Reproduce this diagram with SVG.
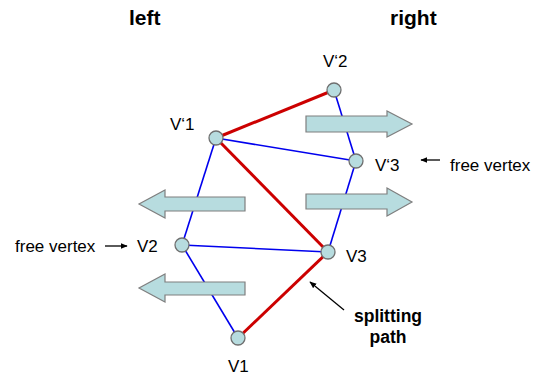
<svg xmlns="http://www.w3.org/2000/svg" width="544" height="378" viewBox="0 0 544 378">
<style>
.txt{font-family:"Liberation Sans",Arial,sans-serif;fill:#000}
.lab{font-size:17px}
.small{font-size:17px}
.bold{font-weight:bold}
.red{stroke:#cc0000;stroke-width:3;fill:none}
.blue{stroke:#0000ee;stroke-width:1.6;fill:none}
.big{fill:#b7dcdf;stroke:#7f7f7f;stroke-width:1.2}
.v{fill:#b7dcdf;stroke:#6f6f6f;stroke-width:1.3}
.ptr{stroke:#000;stroke-width:1.3;fill:none}
</style>
<defs>
<marker id="ah" viewBox="0 0 10 10" refX="9" refY="5" markerWidth="7" markerHeight="7" orient="auto" markerUnits="userSpaceOnUse">
<path d="M0,1 L10,5 L0,9 Z" fill="#000"/>
</marker>
</defs>
<rect width="544" height="378" fill="#fff"/>
<text class="txt bold" x="129" y="25" font-size="21">left</text>
<text class="txt bold" x="390" y="25" font-size="21">right</text>

<g id="connectors">
<line class="blue" x1="334" y1="90" x2="356" y2="161"/>
<line class="blue" x1="216" y1="138" x2="356" y2="161"/>
<line class="blue" x1="216" y1="138" x2="182" y2="245"/>
<line class="blue" x1="182" y1="245" x2="328" y2="252"/>
<line class="blue" x1="182" y1="245" x2="238" y2="338"/>
<line class="blue" x1="356" y1="161" x2="328" y2="252"/>
<line class="red" x1="216" y1="138" x2="334" y2="90"/>
<line class="red" x1="216" y1="138" x2="328" y2="252"/>
<line class="red" x1="328" y1="252" x2="238" y2="338"/>
</g>

<g id="arrows">
<path class="big" d="M306,116 H387 V111 L412,124 L387,137 V132 H306 Z"/>
<path class="big" d="M306,194 H387 V188 L412,202 L387,216 V209 H306 Z"/>
<path class="big" d="M245,197 H165 V190 L139,204 L165,218 V211 H245 Z"/>
<path class="big" d="M245,282 H165 V274 L139,288 L165,302 V295 H245 Z"/>
</g>

<g id="V1p"><circle class="v" cx="216" cy="138" r="7"/><text class="txt lab" x="170" y="130">V‘1</text></g>
<g id="V2p"><circle class="v" cx="334" cy="90" r="7"/><text class="txt lab" x="323" y="67">V‘2</text></g>
<g id="V3p"><circle class="v" cx="356" cy="161" r="7"/><text class="txt lab" x="375" y="171">V‘3</text></g>
<g id="V2"><circle class="v" cx="182" cy="245" r="7"/><text class="txt lab" x="137" y="252">V2</text></g>
<g id="V3"><circle class="v" cx="328" cy="252" r="7"/><text class="txt lab" x="346" y="262">V3</text></g>
<g id="V1"><circle class="v" cx="238" cy="338" r="7"/><text class="txt lab" x="228" y="372">V1</text></g>

<g id="free-right">
<text class="txt small" x="450" y="171">free vertex</text>
<line class="ptr" x1="440" y1="160" x2="421" y2="160" marker-end="url(#ah)"/>
</g>
<g id="free-left">
<text class="txt small" x="15" y="252">free vertex</text>
<line class="ptr" x1="105" y1="246" x2="127" y2="246" marker-end="url(#ah)"/>
</g>
<g id="splitting">
<text class="txt bold" font-size="17.5" x="388" y="322" text-anchor="middle">splitting</text>
<text class="txt bold" font-size="17.5" x="388" y="343" text-anchor="middle">path</text>
<line class="ptr" x1="344" y1="310" x2="310" y2="282" marker-end="url(#ah)"/>
</g>
</svg>
